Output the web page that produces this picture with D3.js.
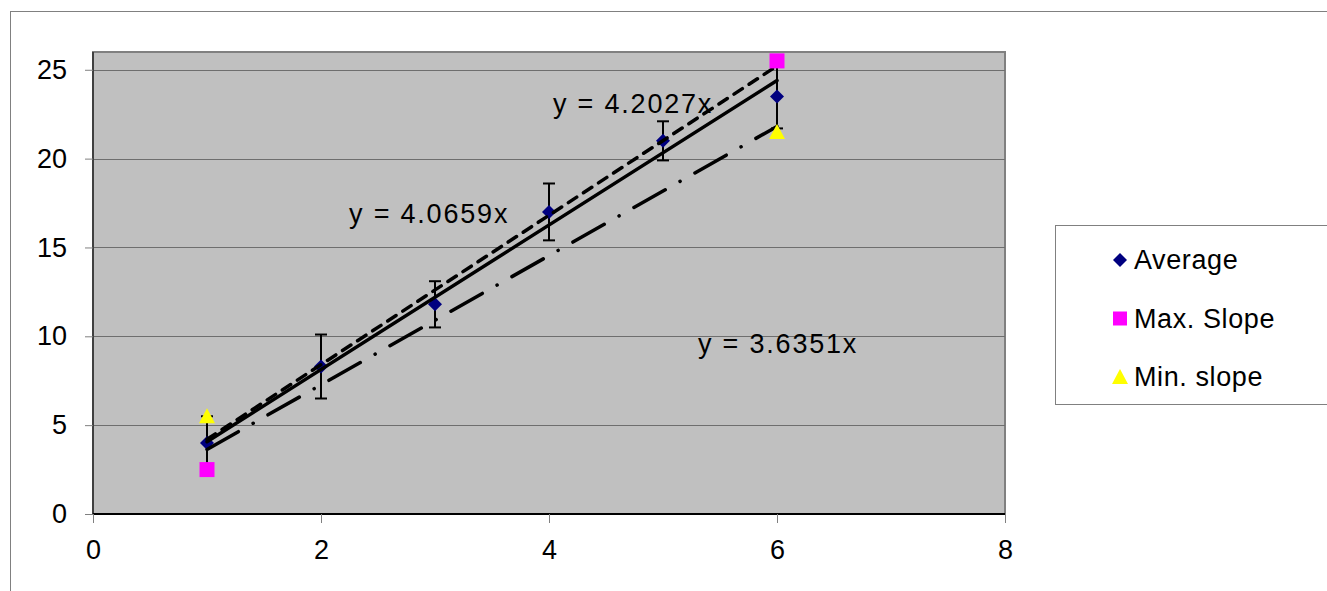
<!DOCTYPE html>
<html>
<head>
<meta charset="utf-8">
<script src="https://cdn.jsdelivr.net/npm/d3@7"></script>
<style>
  body { margin: 0; background: #fff; }
  text { font-family: "Liberation Sans", Arial, sans-serif; }
</style>
</head>
<body>
<script>
var xValues = [1, 2, 3, 4, 5, 6];
var average = [4, 8.3, 11.8, 17, 21, 23.5];
var errHigh = [5.5, 10.1, 13.1, 18.6, 22.1, 25.3];
var errLow = [2.5, 6.5, 10.5, 15.4, 19.9, 21.7];
var maxX = [1, 6], maxSlope = [2.5, 25.5];
var minX = [1, 6], minSlope = [5.5, 21.5];
var slopes = [4.0659, 4.2027, 3.6351];
var eqLabels = ["y = 4.0659x", "y = 4.2027x", "y = 3.6351x"];
var eqPos = [[2.246, 16.39], [4.035, 22.58], [5.307, 9.07]];
var xTicks = [0, 2, 4, 6, 8];
var yTicks = [0, 5, 10, 15, 20, 25];
var legendNames = ["Average", "Max. Slope", "Min. slope"];

var width = 1327, height = 591;
var pLeft = 93, pRight = 1005, pTop = 52, pBottom = 514;

var svg = d3.select("body").append("svg")
  .attr("width", width)
  .attr("height", height);

// chart border
svg.append("rect")
  .attr("x", 10.5).attr("y", 11.5)
  .attr("width", 1330).attr("height", 600)
  .style("fill", "white")
  .style("stroke", "#808080")
  .style("stroke-width", "1px");

var x = d3.scaleLinear().domain([0, 8]).range([pLeft, pRight]);
var y = d3.scaleLinear().domain([0, 26]).range([pBottom, pTop]);

// plot area
svg.append("rect")
  .attr("x", pLeft).attr("y", pTop)
  .attr("width", pRight - pLeft).attr("height", pBottom - pTop)
  .style("fill", "#c0c0c0")
  .style("stroke", "#808080")
  .style("stroke-width", "2px");

svg.selectAll(".grid")
  .data(yTicks.filter(function(d) { return d > 0; }))
  .enter().append("line")
  .attr("class", "grid")
  .attr("x1", pLeft).attr("x2", pRight)
  .attr("y1", function(d) { return Math.round(y(d)) + 0.5; })
  .attr("y2", function(d) { return Math.round(y(d)) + 0.5; })
  .style("stroke", "#6e6e6e")
  .style("stroke-width", "1px");

// axes
var yAxis = d3.axisLeft(y).tickValues(yTicks).tickSize(8).tickPadding(18);
var xAxis = d3.axisBottom(x).tickValues(xTicks).tickSize(9).tickPadding(17);

var gy = svg.append("g")
  .attr("transform", "translate(" + pLeft + ",0)")
  .call(yAxis);
var gx = svg.append("g")
  .attr("transform", "translate(0," + pBottom + ")")
  .call(xAxis);

[gx, gy].forEach(function(g) {
  g.selectAll("text")
    .style("font-size", "27px")
    .style("fill", "black")
    .style("font-family", "Liberation Sans, Arial, sans-serif");
  g.selectAll(".tick line").style("stroke", "#808080");
});
gy.select(".domain").style("stroke", "#404040").style("stroke-width", "2px").attr("d", "M0," + pBottom + "V" + pTop);
gx.select(".domain").style("stroke", "black").style("stroke-width", "2px").attr("d", "M" + pLeft + ",0H" + pRight);

// error bars
var eb = svg.append("g");
xValues.forEach(function(xv, i) {
  eb.append("line")
    .attr("x1", x(xv)).attr("x2", x(xv))
    .attr("y1", y(errHigh[i])).attr("y2", y(errLow[i]))
    .style("stroke", "black").style("stroke-width", "2px");
  [errHigh[i], errLow[i]].forEach(function(v) {
    eb.append("line")
      .attr("x1", x(xv) - 6).attr("x2", x(xv) + 6)
      .attr("y1", y(v)).attr("y2", y(v))
      .style("stroke", "black").style("stroke-width", "2px");
  });
});

// average diamonds
svg.selectAll(".avg")
  .data(average)
  .enter().append("path")
  .attr("class", "avg")
  .attr("d", "M0,-7L7,0L0,7L-7,0Z")
  .attr("transform", function(d, i) { return "translate(" + x(xValues[i]) + "," + y(d) + ")"; })
  .style("fill", "#000080");

// trendlines
var dashes = [null, "10,8", "36,17,0.1,17"];
slopes.forEach(function(s, i) {
  svg.append("line")
    .attr("x1", x(1)).attr("y1", y(s * 1))
    .attr("x2", x(6)).attr("y2", y(s * 6))
    .style("stroke", "black")
    .style("stroke-width", "3.5px")
    .style("stroke-linecap", "round")
    .style("stroke-dasharray", dashes[i]);
});

// max slope squares
svg.selectAll(".maxp")
  .data(maxSlope)
  .enter().append("rect")
  .attr("class", "maxp")
  .attr("x", function(d, i) { return x(maxX[i]) - 7.5; })
  .attr("y", function(d) { return y(d) - 7.5; })
  .attr("width", 15).attr("height", 15)
  .style("fill", "#ff00ff");

// min slope triangles
svg.selectAll(".minp")
  .data(minSlope)
  .enter().append("path")
  .attr("class", "minp")
  .attr("d", "M0,-8L8,7L-8,7Z")
  .attr("transform", function(d, i) { return "translate(" + x(minX[i]) + "," + y(d) + ")"; })
  .style("fill", "#ffff00");

// equations
svg.selectAll(".eq")
  .data(eqLabels)
  .enter().append("text")
  .attr("class", "eq")
  .attr("x", function(d, i) { return x(eqPos[i][0]); })
  .attr("y", function(d, i) { return y(eqPos[i][1]); })
  .style("font-size", "27px")
  .style("letter-spacing", "1.8px")
  .text(function(d) { return d; });

// legend
svg.append("rect")
  .attr("x", 1055.5).attr("y", 225.5)
  .attr("width", 300).attr("height", 179)
  .style("fill", "white")
  .style("stroke", "#808080")
  .style("stroke-width", "1px");

var legend = svg.selectAll(".legend")
  .data(legendNames)
  .enter().append("g")
  .attr("class", "legend")
  .attr("transform", function(d, i) { return "translate(1120," + (260 + i * 58.5) + ")"; });

legend.append("path")
  .attr("d", function(d, i) {
    if (i === 0) return "M0,-7L7,0L0,7L-7,0Z";
    if (i === 1) return "M-7,-7H7V7H-7Z";
    return "M0,-8L8,7L-8,7Z";
  })
  .style("fill", function(d, i) { return ["#000080", "#ff00ff", "#ffff00"][i]; });

legend.append("text")
  .attr("x", 14)
  .attr("y", 9)
  .style("font-size", "27px")
  .style("letter-spacing", "0.6px")
  .text(function(d) { return d; });
</script>
</body>
</html>
